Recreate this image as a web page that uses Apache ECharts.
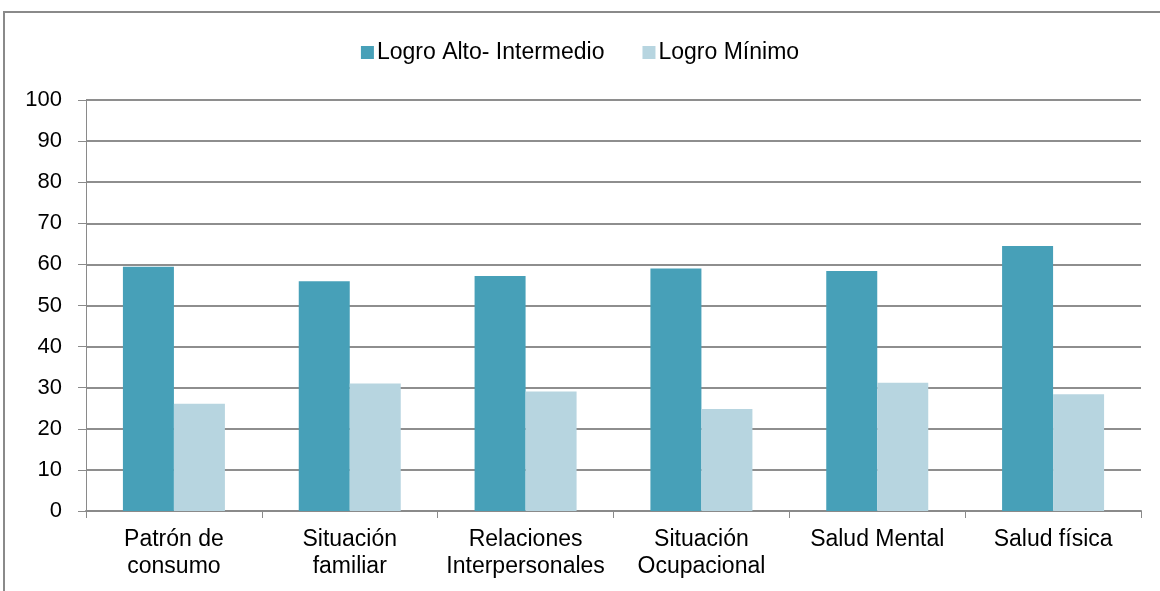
<!DOCTYPE html>
<html><head><meta charset="utf-8">
<script src="https://cdn.jsdelivr.net/npm/echarts@6/dist/echarts.min.js"></script>
<style>
html,body{margin:0;padding:0;background:#fff;}
#frame{position:absolute;left:3px;top:11px;width:1200px;height:700px;border-left:2px solid #8a8a8a;border-top:2px solid #8a8a8a;}
#c{position:absolute;left:0;top:0;width:1160px;height:591px;}
</style></head>
<body>
<div id="frame"></div>
<div id="c"></div>
<script>
const categories = ['Patrón de\nconsumo','Situación\nfamiliar','Relaciones\nInterpersonales','Situación\nOcupacional','Salud Mental','Salud física'];
const seriesNames = ['Logro Alto- Intermedio','Logro Mínimo'];
const altoIntermedio = [59.4, 55.9, 57.2, 59.0, 58.4, 64.5];
const minimo = [26.1, 31.0, 29.1, 24.8, 31.2, 28.4];
const yTicks = {min:0, max:100, interval:10};

const chart = echarts.init(document.getElementById('c'));
const font = 'Liberation Sans, Arial, sans-serif';
chart.setOption({
  animation:false,
  textStyle:{fontFamily:font},
  legend:{
    top:36, left:'center', itemWidth:13, itemHeight:13, itemGap:38,
    icon:'rect',
    textStyle:{fontSize:23, color:'#000', fontFamily:font, padding:[0,0,0,-2]},
    data:seriesNames
  },
  grid:{left:86, right:19, top:100, bottom:80, containLabel:false},
  xAxis:{
    type:'category', data:categories,
    axisLine:{lineStyle:{color:'#8a8a8a', width:2}},
    axisTick:{show:true, length:7, lineStyle:{color:'#8a8a8a', width:1}},
    axisLabel:{fontSize:23, color:'#000', lineHeight:27, margin:15, interval:0, fontFamily:font}
  },
  yAxis:{
    type:'value', min:yTicks.min, max:yTicks.max, interval:yTicks.interval,
    axisLine:{show:true, lineStyle:{color:'#8a8a8a', width:1}},
    axisTick:{show:true, length:8, lineStyle:{color:'#8a8a8a'}},
    axisLabel:{fontSize:22, color:'#000', margin:24, fontFamily:font},
    splitLine:{lineStyle:{color:'#8e8e8e', width:2}}
  },
  series:[
    {name:seriesNames[0], type:'bar', data:altoIntermedio, barWidth:51, barGap:'0%',
     itemStyle:{color:'#47A0B8'}},
    {name:seriesNames[1], type:'bar', data:minimo, barWidth:51, barGap:'0%',
     itemStyle:{color:'#B7D5E0'}}
  ]
});
</script>
</body></html>
